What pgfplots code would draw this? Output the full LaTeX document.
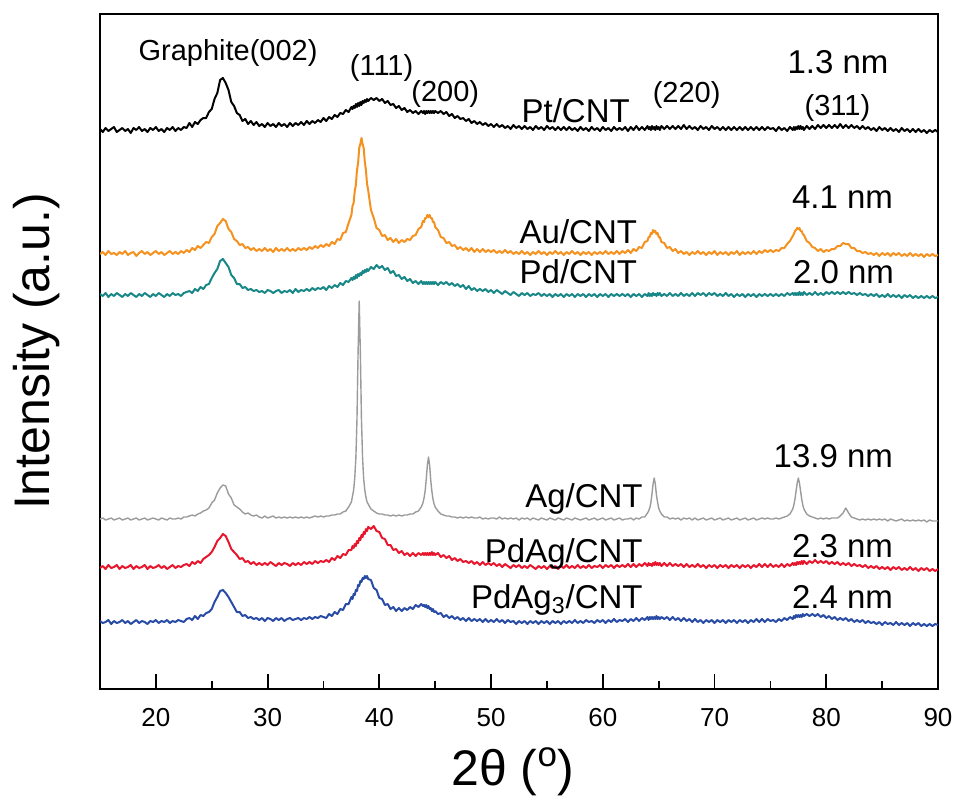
\documentclass[border=0pt]{standalone}
\usepackage{fontspec}
\setmainfont{Liberation Sans}
\usepackage{pgfplots}
\pgfplotsset{compat=1.18}
\usepackage{pgfplotstable}

\definecolor{aucol}{RGB}{245,145,30}
\definecolor{pdcol}{RGB}{25,135,135}
\definecolor{agcol}{RGB}{155,155,155}
\definecolor{pdagcol}{RGB}{232,22,45}
\definecolor{pdagthreecol}{RGB}{40,75,165}

% XRD patterns, offset stacked (y in plot units)
\pgfplotstableread{
x pt au pd ag pdag pdag3
15.00 560 435 395 170 121 68
15.25 557 437 393 171 123 66
15.50 561 434 396 169 120 67
15.75 558 438 392 170 124 69
16.00 560 435 395 171 121 65
16.25 562 436 393 169 122 68
16.50 557 434 396 170 124 66
16.75 559 437 394 171 120 67
17.00 561 435 392 169 123 69
17.25 558 438 395 170 121 66
17.50 560 434 393 171 122 68
17.75 556 436 396 169 124 65
18.00 561 437 394 170 120 67
18.25 559 433 392 171 123 69
18.50 562 436 395 169 121 66
18.75 558 438 393 170 122 68
19.00 560 435 396 171 124 67
19.25 557 437 394 169 120 65
19.50 561 434 392 170 123 68
19.75 559 436 395 171 121 67
20.00 562 438 393 170 122 69
20.25 558 435 396 169 124 66
20.50 560 437 394 171 121 68
20.75 557 434 392 170 123 67
21.00 561 436 395 169 120 69
21.25 559 438 393 171 122 66
21.50 562 435 396 170 124 68
21.75 558 437 394 170 121 67
22.00 561 435 395 171 123 69
22.25 559 438 393 170 122 68
22.50 562 436 396 172 124 67
22.75 561 439 397 172 125 70
23.00 566 437 398 173 123 71
23.25 562 441 396 174 127 69
23.50 567 439 400 173 125 73
23.75 565 443 398 175 128 70
24.00 569 441 402 176 126 74
24.25 571 444 400 178 130 73
24.50 571 447 404 179 132 76
24.75 577 446 405 181 134 77
25.00 580 452 411 186 137 80
25.25 590 455 416 189 142 87
25.50 596 463 420 196 148 92
25.75 609 466 428 201 151 98
26.00 611 470 430 204 155 99
26.25 606 468 426 203 153 96
26.50 599 460 422 195 147 92
26.75 587 457 414 191 140 87
27.00 583 450 411 184 137 82
27.25 576 448 405 182 134 77
27.50 574 444 405 180 130 77
27.75 568 445 401 177 131 73
28.00 570 441 402 175 127 74
28.25 565 442 399 176 128 71
28.50 568 439 400 174 125 72
28.75 564 441 398 173 127 70
29.00 567 438 399 174 124 71
29.25 563 440 397 172 126 69
29.50 565 438 398 171 124 71
29.75 562 441 396 173 126 68
30.00 566 438 399 171 124 71
30.25 563 440 398 172 127 70
30.50 565 437 396 173 125 68
30.75 562 441 398 171 123 71
31.00 566 438 399 172 126 69
31.25 563 440 396 171 124 71
31.50 565 438 398 172 126 68
31.75 562 441 397 171 125 70
32.00 566 438 399 172 123 71
32.25 563 440 396 171 126 69
32.50 566 438 400 172 124 70
32.75 564 441 397 171 126 71
33.00 567 439 399 172 124 69
33.25 564 441 398 171 127 71
33.50 568 439 400 172 125 70
33.75 565 442 398 171 127 72
34.00 568 440 401 172 125 70
34.25 566 443 399 173 128 72
34.50 569 441 401 172 126 71
34.75 567 444 400 173 128 73
35.00 571 442 402 172 127 72
35.25 568 445 399 173 129 71
35.50 572 443 403 173 127 75
35.75 570 447 401 174 131 73
36.00 574 445 404 174 129 77
36.25 572 450 402 175 133 75
36.50 576 449 406 175 131 80
36.75 575 456 404 177 135 79
37.00 579 457 408 178 134 85
37.25 577 466 407 182 139 85
37.50 582 474 411 187 139 92
37.60 580 483 409 193 143 90
37.70 583 486 412 199 141 95
37.80 581 498 410 211 145 94
37.90 585 504 414 231 143 99
38.00 582 519 411 270 148 98
38.10 586 526 415 338 146 104
38.20 583 541 413 388 151 103
38.30 587 545 416 337 149 108
38.40 584 551 414 270 154 107
38.50 588 545 418 231 152 111
38.60 586 541 416 210 157 110
38.70 589 527 419 199 155 113
38.80 587 519 417 192 160 111
38.90 590 505 420 187 158 113
39.00 588 499 418 185 162 110
39.25 591 479 422 180 160 109
39.50 589 471 420 178 163 101
39.75 591 461 424 176 158 99
40.00 588 459 421 175 157 91
40.25 590 453 423 175 151 90
40.50 586 454 419 174 150 84
40.75 588 449 421 174 144 85
41.00 584 451 416 173 144 80
41.25 585 447 418 174 139 82
41.50 581 450 413 173 140 78
41.75 583 446 414 174 136 81
42.00 579 449 410 173 138 78
42.25 581 447 412 174 134 81
42.50 577 450 408 174 136 79
42.75 579 449 410 175 133 82
43.00 576 453 406 175 136 80
43.25 578 454 408 177 133 84
43.50 575 460 405 178 136 82
43.75 578 462 408 182 134 85
43.90 576 468 405 186 136 83
44.00 578 467 407 191 134 84
44.10 575 471 405 198 136 82
44.20 578 471 407 210 134 84
44.30 576 474 405 224 136 81
44.40 578 472 407 232 134 83
44.50 576 474 405 224 136 80
44.60 578 471 407 209 134 81
44.70 576 471 405 198 137 78
44.80 578 467 407 190 134 80
44.90 576 467 405 185 136 77
45.00 578 462 407 182 134 78
45.25 576 459 404 178 136 75
45.50 578 452 407 175 132 76
45.75 575 451 405 174 134 72
46.00 577 446 407 173 131 74
46.25 573 447 404 173 133 71
46.50 575 443 406 172 129 73
46.75 571 444 403 172 131 70
47.00 573 440 405 171 128 72
47.25 570 442 402 172 130 69
47.50 571 439 404 171 127 71
47.75 568 441 400 172 128 68
48.00 570 438 403 171 126 71
48.25 566 441 399 172 128 68
48.50 568 437 401 171 125 70
48.75 565 440 398 171 127 68
49.00 567 437 400 172 124 70
49.25 564 440 398 170 127 67
49.50 566 437 400 171 124 70
49.75 563 439 397 170 126 67
50.00 565 437 399 171 124 69
50.25 562 439 396 171 126 67
50.50 565 436 399 170 123 70
50.75 562 438 397 172 125 67
51.00 564 436 395 170 122 69
51.25 561 439 398 171 125 66
51.50 563 436 396 170 123 69
51.75 560 438 394 171 121 67
52.00 564 435 397 170 124 68
52.25 561 437 395 171 122 65
52.50 563 435 393 169 124 68
52.75 560 438 396 171 121 66
53.00 563 435 394 170 123 68
53.25 560 437 396 171 121 65
53.50 562 434 393 169 124 68
53.75 559 437 395 171 122 66
54.00 563 435 394 170 120 68
54.25 560 438 396 169 123 65
54.50 562 435 393 171 121 68
54.75 559 437 395 170 123 66
55.00 563 434 393 169 120 68
55.25 560 437 395 171 123 65
55.50 562 435 392 170 121 68
55.75 559 438 395 169 123 66
56.00 562 435 393 171 120 68
56.25 559 437 395 170 123 65
56.50 562 434 392 169 121 68
56.75 559 437 395 171 124 66
57.00 562 435 393 170 121 68
57.25 559 438 395 169 123 66
57.50 561 435 392 171 121 69
57.75 558 437 395 170 124 66
58.00 562 434 393 169 121 68
58.25 559 437 395 170 123 66
58.50 561 435 392 171 121 69
58.75 558 437 395 169 124 67
59.00 562 434 393 170 121 68
59.25 559 437 395 171 123 66
59.50 561 435 392 169 122 69
59.75 558 437 395 170 124 67
60.00 562 435 393 171 121 69
60.25 559 438 395 169 124 66
60.50 561 435 392 170 122 69
60.75 558 437 395 171 124 67
61.00 562 435 393 169 121 70
61.25 559 438 395 170 124 67
61.50 561 435 393 171 122 69
61.75 559 438 395 169 124 68
62.00 562 436 393 170 122 70
62.25 558 439 395 170 125 67
62.50 562 436 392 171 122 70
62.75 559 440 395 169 125 68
63.00 563 438 393 171 122 71
63.25 559 442 395 170 125 68
63.50 562 441 392 172 123 71
63.75 559 447 395 172 126 69
64.00 563 448 393 176 123 72
64.10 560 452 396 178 126 69
64.20 562 452 393 181 124 72
64.30 559 456 395 186 125 70
64.40 563 455 393 195 123 72
64.50 560 459 396 205 126 70
64.60 562 457 394 211 124 72
64.70 559 458 395 205 127 70
64.80 563 455 393 194 124 73
64.90 560 456 396 187 126 70
65.00 562 452 394 181 124 72
65.10 559 452 396 178 126 70
65.25 563 447 393 175 123 72
65.50 560 446 395 172 126 70
65.75 563 441 393 172 123 72
66.00 560 442 396 170 126 69
66.25 563 438 393 171 123 72
66.50 560 440 395 170 125 69
66.75 563 436 393 171 123 71
67.00 560 438 396 169 125 68
67.25 564 435 393 171 122 71
67.50 560 437 395 170 125 68
67.75 563 434 393 171 122 70
68.00 560 437 396 169 124 67
68.25 562 435 393 171 122 70
68.50 559 438 396 169 125 67
68.75 563 435 394 170 122 69
69.00 560 437 396 171 124 66
69.25 562 434 393 169 121 69
69.50 559 437 396 170 124 67
69.75 563 435 394 171 122 69
70.00 560 438 396 169 124 66
70.25 562 434 393 170 121 69
70.50 559 437 395 171 124 67
70.75 562 435 393 169 122 69
71.00 559 437 396 170 124 66
71.25 562 434 393 171 121 69
71.50 559 437 395 169 124 67
71.75 562 435 392 170 122 69
72.00 559 438 395 171 124 66
72.25 562 434 393 169 121 69
72.50 559 437 395 170 124 67
72.75 562 435 392 171 122 69
73.00 559 437 395 169 124 66
73.25 562 435 393 170 121 69
73.50 559 438 395 171 124 67
73.75 562 435 392 169 122 70
74.00 559 438 395 170 125 67
74.25 562 436 393 171 122 70
74.50 559 439 395 170 125 67
74.75 562 437 393 171 122 70
75.00 560 439 395 170 125 68
75.25 561 437 393 170 122 69
75.50 558 439 395 171 124 67
75.75 562 438 393 170 122 70
76.00 559 441 395 171 125 68
76.25 561 441 393 172 122 71
76.50 558 445 396 173 125 69
76.75 562 448 394 175 123 72
77.00 559 453 396 180 126 70
77.10 562 455 394 184 124 73
77.20 559 458 396 190 126 71
77.30 562 459 394 198 124 74
77.40 560 461 396 206 127 72
77.50 563 460 394 211 125 74
77.60 560 461 397 206 127 72
77.70 563 458 394 198 125 74
77.80 560 458 396 190 128 72
77.90 562 455 394 184 125 75
78.00 559 454 397 180 128 73
78.25 563 448 394 175 125 75
78.50 560 446 396 173 128 73
78.75 563 442 394 172 126 75
79.00 560 441 397 171 129 73
79.25 564 438 394 170 126 75
79.50 561 440 396 171 128 72
79.75 564 437 394 170 126 74
80.00 561 439 397 171 128 71
80.25 564 438 395 170 125 73
80.50 561 440 397 171 127 70
80.75 564 440 395 171 125 72
81.00 561 443 397 171 127 69
81.25 565 443 395 173 124 71
81.50 561 446 397 176 126 69
81.75 564 445 395 181 124 71
82.00 561 445 397 176 126 68
82.25 564 441 395 172 123 70
82.50 561 441 396 171 125 67
82.75 563 438 394 170 123 69
83.00 560 438 396 169 124 67
83.25 563 436 394 170 122 69
83.50 560 437 395 169 124 66
83.75 562 435 393 170 121 68
84.00 559 436 395 169 123 66
84.25 561 434 393 170 121 67
84.50 558 436 395 169 123 65
84.75 562 433 392 170 120 67
85.00 559 436 394 169 122 64
85.25 561 434 392 170 120 67
85.50 558 436 395 168 122 65
85.75 561 433 392 170 119 66
86.00 558 436 394 169 122 64
86.25 560 434 392 168 120 67
86.50 557 436 394 169 122 64
86.75 561 433 391 170 119 66
87.00 558 435 394 168 121 64
87.25 560 433 392 169 119 66
87.50 557 436 394 168 122 63
87.75 560 433 391 169 119 66
88.00 557 435 393 168 121 64
88.25 560 433 391 169 118 66
88.50 557 435 393 168 121 63
88.75 559 432 391 169 119 65
89.00 556 435 393 167 121 63
89.25 559 433 391 169 118 65
89.50 557 435 393 168 120 63
89.75 559 433 391 168 118 65
90.00 557 434 392 168 120 64
}\xrd

\begin{document}
\begin{tikzpicture}
\begin{axis}[
    name=ax,
    scale only axis,
    width=419pt, height=337.5pt,
    xmin=15, xmax=90, ymin=0, ymax=675,
    xtick={20,30,40,50,60,70,80,90},
    minor xtick={25,35,45,55,65,75,85},
    xtick pos=left,
    ytick=\empty,
    tick align=inside,
    major tick length=7.5pt,
    minor tick length=4pt,
    axis line style={line width=1pt},
    every tick/.style={black, line width=0.9pt},
    xticklabel style={font=\fontsize{13}{15}\selectfont, inner sep=0pt, yshift=-9.5pt},
    /pgf/number format/assume math mode=true,
    every axis plot/.append style={mark=none, line join=round},
]
\addplot[black, line width=1pt] table[x=x, y=pt] {\xrd};
\addplot[aucol, line width=1pt] table[x=x, y=au] {\xrd};
\addplot[pdcol, line width=1pt] table[x=x, y=pd] {\xrd};
\addplot[agcol, line width=0.7pt] table[x=x, y=ag] {\xrd};
\addplot[pdagcol, line width=1pt] table[x=x, y=pdag] {\xrd};
\addplot[pdagthreecol, line width=1pt] table[x=x, y=pdag3] {\xrd};

% peak labels
\begin{scope}[every node/.style={inner sep=0pt, anchor=base, font=\fontsize{14.5}{17}\selectfont}]
\node at (axis cs:26.46,629) {Graphite(002)};
\node at (axis cs:40.2,614) {(111)};
\node at (axis cs:45.9,588) {(200)};
\node at (axis cs:67.5,587) {(220)};
\node at (axis cs:81.0,574) {(311)};
\end{scope}

% sample names and crystallite sizes
\begin{scope}[every node/.style={inner sep=0pt, anchor=base east, font=\fontsize{16.5}{19}\selectfont}]
\node at (axis cs:62.45,567) {Pt/CNT};
\node at (axis cs:63.1,446) {Au/CNT};
\node at (axis cs:63.1,406) {Pd/CNT};
\node at (axis cs:63.6,182) {Ag/CNT};
\node at (axis cs:63.6,127) {PdAg/CNT};
\node at (axis cs:63.6,81) {PdAg\textsubscript{3}/CNT};
\node at (axis cs:85.6,616) {1.3 nm};
\node at (axis cs:86.0,481) {4.1 nm};
\node at (axis cs:86.1,406) {2.0 nm};
\node at (axis cs:86.0,222) {13.9 nm};
\node at (axis cs:86.0,132) {2.3 nm};
\node at (axis cs:86.0,81) {2.4 nm};
\end{scope}
\end{axis}

\node[rotate=90, anchor=south, inner sep=0pt, font=\fontsize{25}{30}\selectfont]
    at ([xshift=-20pt]ax.west) {Intensity (a.u.)};
\node[anchor=base, inner sep=0pt, font=\fontsize{25}{30}\selectfont]
    at ([xshift=-3pt, yshift=-48pt]ax.south) {2θ (\textsuperscript{o})};

\pgfresetboundingbox
\path ([shift={(-50pt,-55.5pt)}]ax.south west) rectangle ([shift={(9pt,7pt)}]ax.north east);
\end{tikzpicture}
\end{document}
